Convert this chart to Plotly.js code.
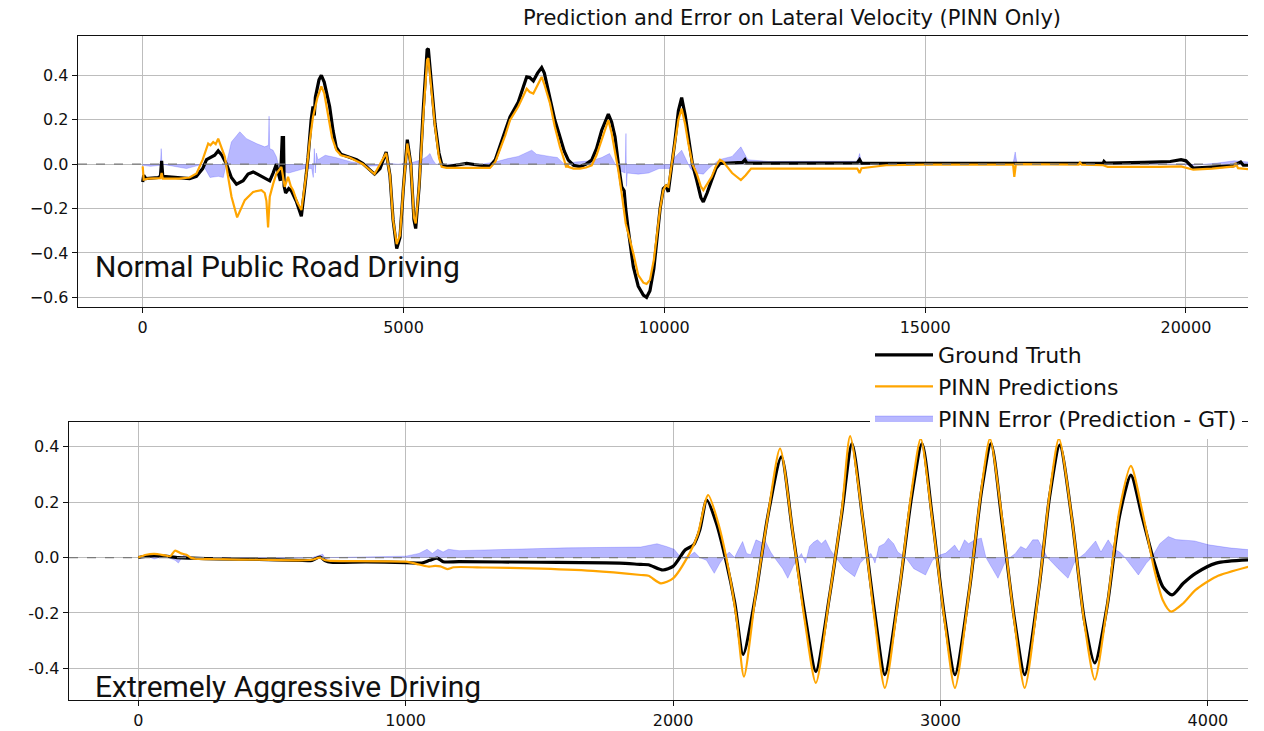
<!DOCTYPE html>
<html><head><meta charset="utf-8">
<script src="https://cdn.plot.ly/plotly-3.0.1.min.js"></script>
<style>html,body{margin:0;padding:0;background:#fff;}#chart{width:1264px;height:731px;}</style>
</head><body><div id="chart"></div>
<script>
// ---------- Normal public road driving (top panel) ----------
const topGtX = [0,20,60,300,340,363,385,600,900,1030,1150,1224,1300,1380,1448,1520,1607,1700,1798,1926,2020,2117,2200,2309,2436,2500,2564,2600,2640,2675,2700,2712,2740,2800,2851,2950,3042,3110,3170,3230,3265,3290,3310,3380,3425,3480,3584,3650,3712,3800,3967,4100,4222,4350,4445,4550,4668,4740,4800,4870,4933,5000,5073,5140,5200,5234,5300,5380,5453,5476,5540,5604,5680,5732,5828,6000,6212,6450,6658,6760,6850,6950,7042,7201,7300,7362,7420,7489,7570,7649,7700,7809,7900,8000,8080,8160,8260,8384,8500,8608,8700,8800,8927,8990,9055,9120,9183,9230,9245,9260,9300,9406,9500,9598,9660,9725,9800,9854,9920,9981,10030,10077,10140,10205,10270,10333,10400,10461,10540,10621,10700,10748,10820,10908,10990,11068,11300,11500,11546,11580,12000,13000,13700,13744,13780,14500,16000,17000,18000,18414,18430,18460,19200,19700,19906,20000,20142,20400,20691,20900,21050,21100,21190];
const topGtY = [-0.08,-0.05,-0.065,-0.06,-0.055,0.015,-0.055,-0.06,-0.065,-0.055,-0.02,0.02,0.03,0.04,0.06,0.04,0.0,-0.06,-0.09,-0.075,-0.045,-0.035,-0.045,-0.058,-0.075,-0.04,0.0,-0.04,-0.075,0.12,0.12,-0.1,-0.13,-0.11,-0.12,-0.17,-0.235,-0.1,0.03,0.2,0.26,0.22,0.3,0.38,0.40,0.37,0.26,0.15,0.075,0.045,0.033,0.02,0.003,-0.025,-0.045,-0.02,0.055,-0.05,-0.25,-0.38,-0.33,-0.1,0.11,0.0,-0.25,-0.29,-0.1,0.25,0.515,0.52,0.35,0.183,0.05,0.0,-0.012,-0.005,0.003,-0.005,-0.01,0.02,0.078,0.15,0.213,0.28,0.35,0.393,0.39,0.375,0.41,0.435,0.41,0.303,0.2,0.123,0.06,0.018,-0.005,-0.012,0.0,0.018,0.07,0.153,0.225,0.19,0.123,0.0,-0.102,-0.12,-0.19,-0.2,-0.28,-0.462,-0.55,-0.59,-0.6,-0.57,-0.47,-0.342,-0.2,-0.11,-0.1,-0.125,-0.02,0.108,0.24,0.30,0.22,0.123,0.0,-0.072,-0.15,-0.17,-0.13,-0.072,-0.02,0.003,0.005,0.008,0.02,0.005,0.005,0.006,0.006,0.02,0.005,0.004,0.003,0.003,0.003,0.004,0.012,0.005,0.008,0.012,0.02,0.015,-0.018,-0.015,-0.012,-0.008,0.01,-0.005,-0.005];

const topPredX = [0,20,100,340,363,385,700,900,1033,1150,1256,1300,1352,1400,1448,1500,1575,1640,1703,1811,1880,1958,2117,2277,2340,2372,2404,2420,2436,2500,2564,2660,2723,2787,2840,2883,2960,3042,3138,3200,3265,3350,3425,3480,3552,3630,3712,3800,3967,4222,4445,4668,4740,4800,4870,4933,5000,5073,5140,5200,5234,5300,5380,5453,5476,5540,5604,5680,5732,5828,6212,6658,6760,6850,6950,7042,7201,7362,7420,7489,7570,7649,7700,7809,7900,8000,8080,8120,8140,8160,8260,8384,8500,8608,8700,8800,8927,8990,9055,9120,9183,9260,9406,9500,9598,9660,9725,9800,9854,9920,9981,10030,10077,10140,10205,10270,10333,10400,10461,10540,10621,10700,10748,10820,10908,10990,11068,11130,11300,11468,11560,11664,12500,13700,13744,13780,14254,15000,16687,16710,16740,17944,17970,18000,18414,18500,19500,19906,20142,20500,20927,20950,21000,21190];
const topPredY = [-0.01,-0.07,-0.065,-0.063,-0.04,-0.065,-0.065,-0.06,-0.042,0.02,0.093,0.085,0.10,0.09,0.115,0.08,0.033,-0.06,-0.147,-0.24,-0.2,-0.162,-0.125,-0.117,-0.13,-0.165,-0.285,-0.17,-0.147,-0.09,-0.042,-0.012,-0.102,-0.057,-0.1,-0.117,-0.17,-0.207,-0.042,0.1,0.213,0.3,0.35,0.32,0.228,0.12,0.063,0.04,0.03,0.0,-0.045,0.05,-0.05,-0.25,-0.36,-0.32,-0.1,0.093,0.0,-0.24,-0.267,-0.1,0.22,0.47,0.478,0.33,0.17,0.03,-0.012,-0.017,-0.017,-0.017,0.01,0.063,0.13,0.198,0.26,0.34,0.325,0.318,0.36,0.393,0.36,0.273,0.17,0.078,0.02,-0.015,0.005,-0.012,-0.02,-0.02,-0.015,-0.005,0.04,0.108,0.198,0.14,0.063,-0.03,-0.132,-0.267,-0.402,-0.5,-0.534,-0.54,-0.522,-0.43,-0.327,-0.2,-0.117,-0.095,-0.102,0.0,0.093,0.2,0.25,0.18,0.093,0.0,-0.042,-0.1,-0.117,-0.09,-0.057,-0.01,0.02,0.01,-0.04,-0.072,-0.05,-0.02,-0.02,-0.02,-0.04,-0.018,-0.005,-0.002,-0.002,-0.057,0.0,-0.002,0.008,-0.002,-0.005,-0.012,-0.012,-0.01,-0.025,-0.02,-0.01,0.005,-0.018,-0.022];

const topErrX = [0,150,340,355,370,600,840,1000,1150,1290,1450,1545,1607,1700,1862,1990,2180,2340,2410,2423,2436,2500,2564,2600,2650,2800,2950,3100,3240,3270,3290,3310,3330,3360,3500,3700,4000,4200,4300,4600,4650,4900,5200,5350,5450,5508,5560,5620,6500,6760,7000,7200,7458,7550,7800,7950,8080,8300,8600,8800,8950,9060,9150,9250,9265,9275,9290,9500,9700,9900,10100,10200,10333,10420,10500,10600,10750,10850,10950,11050,11300,11468,11600,12000,13000,13700,13744,13780,15000,16687,16727,16760,18000,18500,19500,20000,20142,20600,20927,21190];
const topErrY = [-0.005,-0.01,-0.005,0.07,0.0,-0.01,-0.02,-0.01,0.0,-0.06,-0.055,-0.06,0.0,0.1,0.146,0.115,0.093,0.078,0.085,0.216,0.07,0.063,0.033,0.0,-0.03,-0.04,-0.03,-0.02,-0.02,-0.06,0.07,-0.04,0.05,0.02,0.04,0.03,0.01,0.003,-0.01,-0.005,0.005,0.0,0.01,0.02,0.035,0.048,0.02,0.0,0.0,0.01,0.025,0.035,0.063,0.045,0.035,0.03,0.0,0.01,0.015,0.03,0.048,0.0,-0.03,-0.04,0.138,-0.1,-0.04,-0.045,-0.04,-0.02,-0.02,0.03,0.063,0.02,-0.02,-0.04,-0.045,-0.02,0.0,0.02,0.035,0.078,0.02,0.012,0.013,0.013,0.048,0.008,0.004,0.004,0.055,0.004,0.004,0.005,0.003,-0.005,-0.005,0.005,0.015,0.01];

// ---------- Extremely aggressive driving (bottom panel) ----------
const botGtX = [0,30,60,100,150,200,300,450,600,650,680,700,720,850,1000,1060,1090,1118,1140,1200,1500,1800,1880,1908,1962,2000,2046,2077,2100,2126,2162,2200,2231,2262,2308,2354,2405,2446,2492,2534,2585,2631,2669,2708,2754,2792,2846,2892,2931,2969,3015,3054,3108,3154,3189,3231,3277,3315,3369,3408,3446,3492,3538,3577,3623,3669,3712,3754,3800,3831,3866,3908,3954,4031,4157];
const botGtY = [0.0,0.005,0.007,0.005,0.0,-0.002,-0.005,-0.007,-0.01,-0.01,0.002,-0.012,-0.017,-0.016,-0.018,-0.02,-0.01,-0.002,-0.015,-0.015,-0.017,-0.02,-0.025,-0.026,-0.045,-0.032,0.028,0.046,0.1,0.208,0.124,-0.02,-0.165,-0.35,-0.14,0.148,0.364,0.1,-0.2,-0.411,-0.14,0.16,0.412,0.148,-0.2,-0.423,-0.117,0.22,0.412,0.148,-0.213,-0.423,-0.117,0.244,0.412,0.124,-0.225,-0.423,-0.105,0.22,0.406,0.136,-0.225,-0.381,-0.177,0.148,0.298,0.148,-0.02,-0.105,-0.135,-0.093,-0.057,-0.02,-0.008];

const botPredX = [0,30,60,100,120,138,160,180,200,300,450,600,650,680,700,720,1000,1050,1087,1110,1130,1156,1180,1300,1470,1700,1880,1908,1954,2000,2062,2092,2131,2169,2208,2238,2265,2308,2354,2400,2446,2492,2534,2585,2631,2662,2708,2754,2792,2846,2892,2926,2969,3015,3054,3108,3154,3185,3231,3277,3315,3369,3408,3443,3492,3538,3577,3623,3669,3712,3754,3800,3831,3862,3908,3954,4031,4157];
const botPredY = [0.0,0.01,0.013,0.008,0.005,0.025,0.015,0.01,-0.002,-0.006,-0.008,-0.01,-0.008,0.0,-0.01,-0.012,-0.015,-0.025,-0.033,-0.03,-0.032,-0.042,-0.035,-0.036,-0.039,-0.048,-0.063,-0.066,-0.093,-0.075,0.016,0.082,0.226,0.124,-0.045,-0.225,-0.43,-0.14,0.148,0.394,0.1,-0.225,-0.453,-0.14,0.17,0.439,0.148,-0.225,-0.471,-0.117,0.24,0.43,0.14,-0.225,-0.471,-0.117,0.255,0.43,0.136,-0.237,-0.471,-0.105,0.23,0.43,0.136,-0.237,-0.441,-0.177,0.17,0.331,0.17,-0.045,-0.153,-0.195,-0.165,-0.117,-0.069,-0.032];

const botErrX = [0,30,60,100,138,150,170,200,650,690,700,720,1000,1050,1080,1100,1120,1140,1160,1200,1400,1600,1879,1940,1975,2004,2029,2060,2080,2100,2125,2154,2175,2190,2210,2230,2245,2260,2275,2290,2310,2330,2345,2365,2379,2410,2429,2450,2465,2480,2495,2510,2525,2540,2555,2570,2590,2610,2640,2679,2700,2720,2740,2755,2770,2790,2805,2825,2840,2870,2900,2944,2970,3000,3020,3053,3070,3090,3105,3130,3153,3170,3215,3240,3260,3280,3300,3320,3345,3365,3385,3400,3440,3477,3500,3520,3540,3580,3600,3627,3650,3670,3690,3740,3770,3790,3820,3852,3880,3950,4003,4080,4157];
const botErrY = [0.0,0.005,-0.005,0.005,-0.01,-0.02,0.01,0.0,0.0,0.012,-0.005,0.0,0.005,0.015,0.03,0.015,0.03,0.02,0.03,0.025,0.03,0.035,0.038,0.05,0.04,0.03,0.0,0.005,0.02,0.0,-0.01,-0.057,-0.02,0.0,0.02,0.0,0.03,0.058,0.015,0.01,0.064,0.055,0.06,0.02,0.0,-0.04,-0.075,-0.03,-0.005,0.015,-0.02,0.04,0.055,0.064,0.05,0.064,0.025,0.0,-0.04,-0.069,-0.02,0.0,0.015,-0.02,0.04,0.05,0.07,0.05,0.02,0.0,-0.04,-0.063,-0.01,0.01,0.016,0.045,0.02,0.064,0.05,0.065,0.07,0.0,-0.075,-0.02,0.0,0.015,0.04,0.03,0.064,0.064,0.03,0.0,-0.04,-0.075,-0.02,0.0,0.015,0.06,0.02,0.064,0.03,0.02,0.0,-0.063,-0.02,0.0,0.05,0.076,0.065,0.06,0.046,0.035,0.028];

// ---------- tick labels and texts ----------
const topXTicks = [0,5000,10000,15000,20000];
const topXText = ['0','5000','10000','15000','20000'];
const topYTicks = [-0.6,-0.4,-0.2,0,0.2,0.4];
const topYText = ['\u22120.6','\u22120.4','\u22120.2','0.0','0.2','0.4'];
const botXTicks = [0,1000,2000,3000,4000];
const botXText = ['0','1000','2000','3000','4000'];
const botYTicks = [-0.4,-0.2,0,0.2,0.4];
const botYText = ['-0.4','-0.2','0.0','0.2','0.4'];
const seriesNames = ['Ground Truth','PINN Predictions','PINN Error (Prediction - GT)'];
const titleText = 'Prediction and Error on Lateral Velocity (PINN Only)';
const panelLabels = ['Normal Public Road Driving','Extremely Aggressive Driving'];

const GT_COLOR = '#000000', PRED_COLOR = '#FFA500', ERR_FILL = 'rgba(0,0,255,0.28)', ERR_LINE = 'rgba(0,0,255,0.3)';

function panel(xa, ya, ex, ey, gx, gy, px, py, legend, shape) {
  return [
    {x: ex, y: ey, xaxis: xa, yaxis: ya, type: 'scatter', mode: 'lines', fill: 'tozeroy',
     fillcolor: ERR_FILL, line: {color: ERR_LINE, width: 0.6, shape: 'linear'},
     name: seriesNames[2], showlegend: legend, legendrank: 3, legendgroup: 'c', hoverinfo: 'skip'},
    {x: gx, y: gy, xaxis: xa, yaxis: ya, type: 'scatter', mode: 'lines',
     line: {color: GT_COLOR, width: 3.2, shape: shape, smoothing: 0.7},
     name: seriesNames[0], showlegend: legend, legendrank: 1, legendgroup: 'a'},
    {x: px, y: py, xaxis: xa, yaxis: ya, type: 'scatter', mode: 'lines',
     line: {color: PRED_COLOR, width: 2.2, shape: shape, smoothing: 0.7},
     name: seriesNames[1], showlegend: legend, legendrank: 2, legendgroup: 'b'}
  ];
}

const data = [].concat(
  panel('x', 'y', topErrX, topErrY, topGtX, topGtY, topPredX, topPredY, true, 'linear'),
  panel('x2', 'y2', botErrX, botErrY, botGtX, botGtY, botPredX, botPredY, false, 'spline')
);

const W = 1264, H = 731;
const tickFont = {family: 'DejaVu Sans', size: 16, color: '#111'};
const axisCommon = {showgrid: true, gridcolor: '#bdbdbd', gridwidth: 1, zeroline: false,
  showline: true, linecolor: '#111', linewidth: 1.3, ticks: 'outside', ticklen: 5,
  tickcolor: '#111', tickfont: tickFont, automargin: false, fixedrange: true};

const layout = {
  width: W, height: H,
  margin: {l: 0, r: 0, t: 0, b: 0},
  paper_bgcolor: '#ffffff', plot_bgcolor: '#ffffff',
  showlegend: true,
  title: {text: titleText, x: 792 / W, xanchor: 'center', y: 1 - 18 / H, yanchor: 'middle',
          font: {family: 'DejaVu Sans', size: 21, color: '#111'}},
  xaxis: Object.assign({}, axisCommon, {domain: [78 / W, 1248 / W], range: [-1240, 21190],
          tickvals: topXTicks, ticktext: topXText, mirror: true, anchor: 'y'}),
  yaxis: Object.assign({}, axisCommon, {domain: [1 - 307 / H, 1 - 36 / H], range: [-0.6436, 0.5774],
          tickvals: topYTicks, ticktext: topYText, mirror: false, anchor: 'x'}),
  xaxis2: Object.assign({}, axisCommon, {domain: [69 / W, 1248 / W], range: [-259, 4150],
          tickvals: botXTicks, ticktext: botXText, mirror: true, anchor: 'y2'}),
  yaxis2: Object.assign({}, axisCommon, {domain: [1 - 700 / H, 1 - 422 / H], range: [-0.5146, 0.4897],
          tickvals: botYTicks, ticktext: botYText, mirror: false, anchor: 'x2'}),
  legend: {x: 870 / W, xanchor: 'left', y: 1 - 334 / H, yanchor: 'top', bgcolor: '#ffffff',
           borderwidth: 0, font: {family: 'DejaVu Sans', size: 22, color: '#111'},
           traceorder: 'grouped', tracegroupgap: 0, itemwidth: 58},
  shapes: [
    {type: 'line', xref: 'x domain', yref: 'y', x0: 0, x1: 1, y0: 0, y1: 0, layer: 'above',
     line: {color: '#7a7a7a', width: 1.3, dash: 'dash'}},
    {type: 'line', xref: 'x2 domain', yref: 'y2', x0: 0, x1: 1, y0: 0, y1: 0, layer: 'above',
     line: {color: '#7a7a7a', width: 1.3, dash: 'dash'}}
  ],
  annotations: [
    {text: panelLabels[0], xref: 'paper', yref: 'paper', x: 93 / W, y: 1 - 266 / H,
     xanchor: 'left', yanchor: 'middle', showarrow: false,
     font: {family: 'Roboto', size: 30, color: '#111'}},
    {text: panelLabels[1], xref: 'paper', yref: 'paper', x: 93 / W, y: 1 - 686 / H,
     xanchor: 'left', yanchor: 'middle', showarrow: false,
     font: {family: 'Roboto', size: 30, color: '#111'}}
  ]
};

Plotly.newPlot('chart', data, layout, {displayModeBar: false, staticPlot: true});
</script>
</body></html>
